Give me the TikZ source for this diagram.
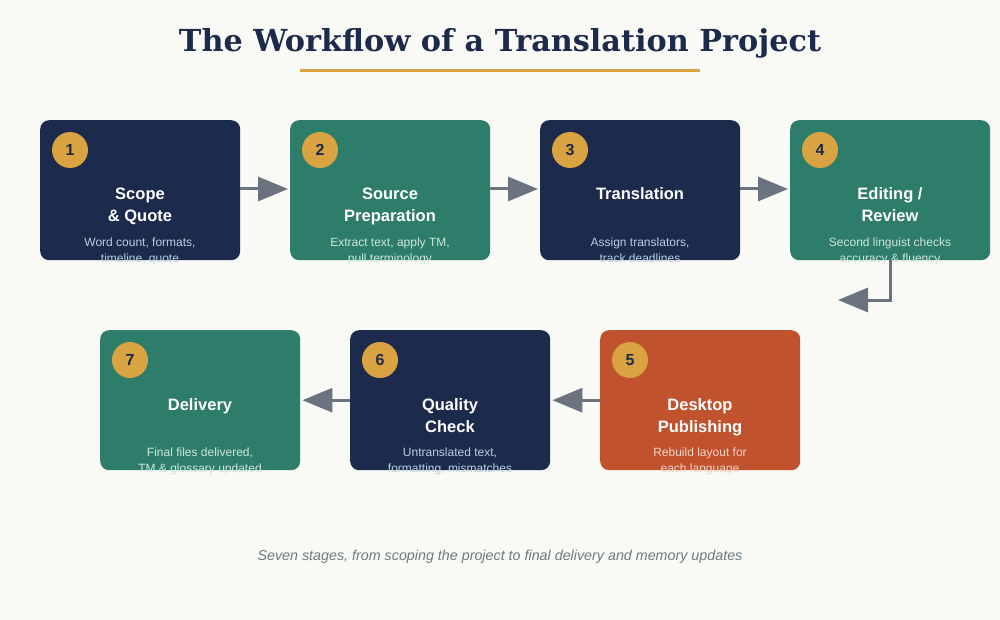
\documentclass[tikz,border=0pt]{standalone}
\usepackage{fontspec}
\setmainfont{Liberation Sans}
\newfontfamily\titlefont{DejaVu Serif}
\usetikzlibrary{arrows.meta}
\definecolor{bgc}{HTML}{F9F9F5}
\definecolor{navy}{HTML}{1C2A4B}
\definecolor{teal}{HTML}{2E7D6B}
\definecolor{rust}{HTML}{C0522E}
\definecolor{gold}{HTML}{D9A341}
\definecolor{arrowc}{HTML}{6B7280}
\definecolor{descnavy}{HTML}{B9CFE0}
\definecolor{descteal}{HTML}{CDE6DE}
\definecolor{descrust}{HTML}{F3D3C3}
\definecolor{footc}{HTML}{6B7B80}
\tikzset{
  stagebox/.style={draw=none, rounded corners=9pt, minimum width=200pt, minimum height=140pt, inner sep=0pt},
  numdisc/.style={circle, fill=gold, minimum size=36pt, inner sep=0pt, text=navy, font=\fontsize{16}{18}\selectfont\bfseries},
  stagetitle/.style={text=white, align=center, font=\fontsize{16.5}{22}\selectfont\bfseries},
  stagedesc/.style={align=center, font=\fontsize{12}{16}\selectfont},
  flow/.style={draw=arrowc, line width=3pt, -{Triangle[length=30pt,width=24pt]}, shorten >=2pt},
}
\begin{document}
\begin{tikzpicture}[x=1pt,y=-1pt]
\fill[bgc] (0,0) rectangle (1000,620);
\useasboundingbox (0,0) rectangle (1000,620);
% title
\node[text=navy, font=\titlefont\fontsize{30.3}{34}\selectfont\bfseries, anchor=base] (title) at (500,52) {The Workflow of a Translation Project};
\fill[gold] (300,69.5) rectangle (700,72.5);
% boxes row 1
\node[stagebox, fill=navy, anchor=north west] (b1) at (40,120) {};
\node[stagebox, fill=teal, anchor=north west] (b2) at (290,120) {};
\node[stagebox, fill=navy, anchor=north west] (b3) at (540,120) {};
\node[stagebox, fill=teal, anchor=north west] (b4) at (790,120) {};
% row 2
\node[stagebox, fill=rust, anchor=north west] (b5) at (600,330) {};
\node[stagebox, fill=navy, anchor=north west] (b6) at (350,330) {};
\node[stagebox, fill=teal, anchor=north west] (b7) at (100,330) {};
% number discs
\node[numdisc] (n1) at (70,150) {1};
\node[numdisc] (n2) at (320,150) {2};
\node[numdisc] (n3) at (570,150) {3};
\node[numdisc] (n4) at (820,150) {4};
\node[numdisc] (n5) at (630,360) {5};
\node[numdisc] (n6) at (380,360) {6};
\node[numdisc] (n7) at (130,360) {7};
% titles (base anchor = baseline of last line)
\node[stagetitle, anchor=base] (t1) at (140,222) {Scope\\\& Quote};
\node[stagetitle, anchor=base] (t2) at (390,222) {Source\\Preparation};
\node[stagetitle, anchor=base] (t3) at (640,200) {Translation};
\node[stagetitle, anchor=base] (t4) at (890,222) {Editing /\\Review};
\node[stagetitle, anchor=base] (t5) at (700,432) {Desktop\\Publishing};
\node[stagetitle, anchor=base] (t6) at (450,432) {Quality\\Check};
\node[stagetitle, anchor=base] (t7) at (200,410) {Delivery};
% descriptions
\node[stagedesc, text=descnavy, anchor=base] (d1) at (140,262) {Word count, formats,\\timeline, quote};
\node[stagedesc, text=descteal, anchor=base] (d2) at (390,262) {Extract text, apply TM,\\pull terminology};
\node[stagedesc, text=descnavy, anchor=base] (d3) at (640,262) {Assign translators,\\track deadlines};
\node[stagedesc, text=descteal, anchor=base] (d4) at (890,262) {Second linguist checks\\accuracy \& fluency};
\node[stagedesc, text=descrust, anchor=base] (d5) at (700,472) {Rebuild layout for\\each language};
\node[stagedesc, text=descnavy, anchor=base] (d6) at (450,472) {Untranslated text,\\formatting, mismatches};
\node[stagedesc, text=descteal, anchor=base] (d7) at (200,472) {Final files delivered,\\TM \& glossary updated};
% connectors
\draw[flow] (b1.east |- 0,189) -- (b2.west |- 0,189);
\draw[flow] (b2.east |- 0,189) -- (b3.west |- 0,189);
\draw[flow] (b3.east |- 0,189) -- (b4.west |- 0,189);
\coordinate (elbowend) at (838,300);
\draw[flow, shorten >=0pt] (b4.south) |- (elbowend);
\draw[flow] (b5.west) -- (b6.east);
\draw[flow] (b6.west) -- (b7.east);
% footer
\node[text=footc, font=\fontsize{14.3}{16}\selectfont\itshape, anchor=base] (foot) at (500,560) {Seven stages, from scoping the project to final delivery and memory updates};
\end{tikzpicture}
\end{document}
